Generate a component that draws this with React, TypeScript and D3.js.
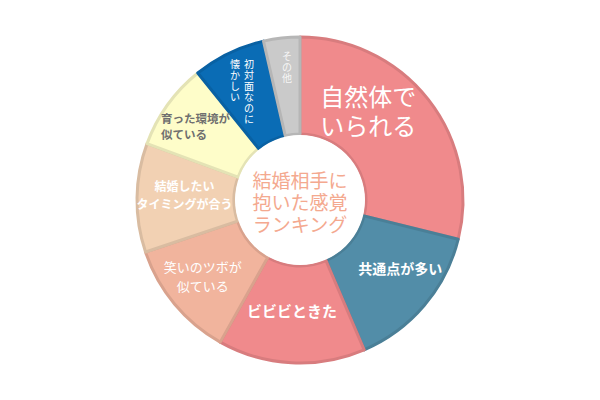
import { useEffect, useRef } from 'react';
import * as d3 from 'd3';

// ranking data, clockwise from 12 o'clock
const labels = [
  ['自然体で', 'いられる'],
  ['共通点が多い'],
  ['ビビビときた'],
  ['笑いのツボが', '似ている'],
  ['結婚したい', 'タイミングが合う'],
  ['育った環境が', '似ている'],
  ['初対面なのに', '懐かしい'],
  ['その他'],
];
const shares = [28.9, 14.7, 14.6, 11.7, 10.8, 8.6, 7.2, 3.6];
const colors = ['#F08A8C', '#528DA8', '#F08A8C', '#F1B49D', '#F2D1B3', '#FEFDC9', '#0A6CB5', '#CACACA'];
const centerTitle = ['結婚相手に', '抱いた感覚', 'ランキング'];

interface LabelStyle {
  size: number;
  weight: string;
  color: string;
  lineHeight: number;
  dx: number;
  dy: number;
  vertical?: boolean;
  anchor?: string;
}

// label look and nudge from the slice centroid
const labelStyles: LabelStyle[] = [
  { size: 24, weight: 'normal', color: '#fff', lineHeight: 29, dx: -22, dy: -20 },
  { size: 14, weight: 'bold', color: '#fff', lineHeight: 18, dx: 13, dy: -6 },
  { size: 15, weight: 'bold', color: '#fff', lineHeight: 18, dx: -2, dy: -4 },
  { size: 13, weight: 'normal', color: '#fff', lineHeight: 19, dx: -9, dy: 2 },
  { size: 12, weight: 'bold', color: '#fff', lineHeight: 18, dx: -1, dy: -4 },
  { size: 11.5, weight: 'bold', color: '#6f6f6f', lineHeight: 16, dx: -46, dy: -7, anchor: 'start' },
  { size: 10, weight: 'normal', color: '#fff', lineHeight: 14, dx: -8, dy: -34, vertical: true },
  { size: 10, weight: 'normal', color: '#f6f6f6', lineHeight: 14, dx: 0, dy: -31, vertical: true },
];

const width = 600;
const height = 400;
const cx = 300;
const cy = 200;
const outerR = 163;
const innerR = 66;
const font = '"Noto Sans CJK JP", "Noto Sans", sans-serif';

export default function App() {
  const svgRef = useRef<SVGSVGElement | null>(null);

  useEffect(() => {
    if (!svgRef.current) return;
    const svg = d3.select(svgRef.current);
    svg.selectAll('*').remove();

    const pie = d3
      .pie<number>()
      .sort(null)
      .value((d) => d);
    const arcs = pie(shares);
    const arc = d3
      .arc<d3.PieArcDatum<number>>()
      .innerRadius(innerR)
      .outerRadius(outerR);

    const g = svg.append('g').attr('transform', `translate(${cx},${cy})`);

    g.selectAll('path')
      .data(arcs)
      .join('path')
      .attr('d', arc)
      .attr('fill', (_, i) => colors[i])
      .attr('stroke', (_, i) => d3.color(colors[i])!.darker(0.3).formatHex())
      .attr('stroke-width', 3)
      .attr('stroke-linejoin', 'round');

    g.append('circle').attr('r', innerR - 1).attr('fill', '#fff');

    arcs.forEach((a, i) => {
      const st = labelStyles[i];
      const [px, py] = arc.centroid(a);
      const lines = labels[i];
      const x = px + st.dx;
      const y = py + st.dy;
      if (st.vertical) {
        // tategaki: columns run right to left, glyphs upright
        const n = lines.length;
        lines.forEach((line, j) => {
          const col = g
            .append('text')
            .attr('font-family', font)
            .attr('font-size', st.size)
            .attr('font-weight', st.weight)
            .attr('fill', st.color)
            .attr('text-anchor', 'middle')
            .attr('dominant-baseline', 'central');
          Array.from(line).forEach((ch, k) => {
            col
              .append('tspan')
              .attr('x', x + ((n - 1) / 2 - j) * st.lineHeight)
              .attr('y', y + k * st.size * 1.1)
              .text(ch);
          });
        });
        return;
      }
      const text = g
        .append('text')
        .attr('font-family', font)
        .attr('font-size', st.size)
        .attr('font-weight', st.weight)
        .attr('fill', st.color)
        .attr('text-anchor', st.anchor || 'middle')
        .attr('dominant-baseline', 'central');
      const top = y - ((lines.length - 1) * st.lineHeight) / 2;
      lines.forEach((line, j) => {
        text
          .append('tspan')
          .attr('x', x)
          .attr('y', top + j * st.lineHeight)
          .text(line);
      });
    });

    const title = g
      .append('text')
      .attr('font-family', font)
      .attr('font-size', 19)
      .attr('fill', '#F4A98F')
      .attr('text-anchor', 'middle')
      .attr('dominant-baseline', 'central');
    centerTitle.forEach((line, j) => {
      title
        .append('tspan')
        .attr('x', 0)
        .attr('y', (j - 1) * 22 + 1)
        .text(line);
    });
  }, []);

  return (
    <svg
      ref={svgRef}
      width={width}
      height={height}
      viewBox={`0 0 ${width} ${height}`}
      style={{ position: 'absolute', left: 0, top: 0, background: '#fff' }}
    />
  );
}
